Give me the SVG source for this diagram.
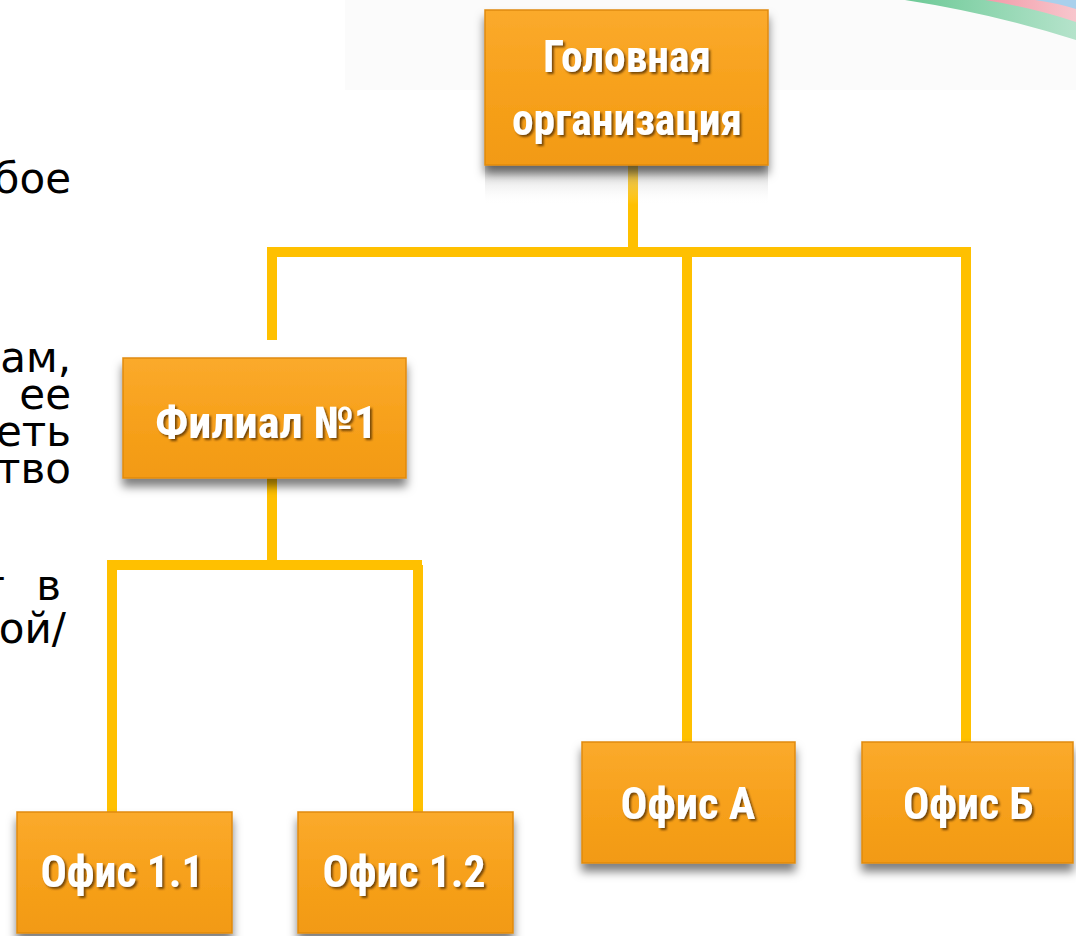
<svg xmlns="http://www.w3.org/2000/svg" width="1076" height="936" viewBox="0 0 1076 936">
<defs>
<linearGradient id="boxg" x1="0" y1="0" x2="0" y2="1">
<stop offset="0" stop-color="#FBAA2C"/>
<stop offset="0.5" stop-color="#F7A11C"/>
<stop offset="1" stop-color="#F29A12"/>
</linearGradient>
<linearGradient id="green" x1="0" y1="0" x2="1" y2="0">
<stop offset="0" stop-color="#6CC996"/>
<stop offset="1" stop-color="#B5E3CB"/>
</linearGradient>
<linearGradient id="pink" x1="0" y1="0" x2="1" y2="0">
<stop offset="0" stop-color="#F29BA8"/>
<stop offset="1" stop-color="#F8C6CD"/>
</linearGradient>
<linearGradient id="refl" x1="0" y1="0" x2="0" y2="1">
<stop offset="0" stop-color="#9A9A9A" stop-opacity="0.55"/>
<stop offset="1" stop-color="#FFFFFF" stop-opacity="0"/>
</linearGradient>
<filter id="boxsh" x="-10%" y="-10%" width="125%" height="140%">
<feDropShadow dx="0" dy="8" stdDeviation="5" flood-color="#000" flood-opacity="0.5"/>
</filter>
<filter id="txtsh" x="-10%" y="-20%" width="120%" height="150%">
<feDropShadow dx="2" dy="2" stdDeviation="1.2" flood-color="#4a2a00" flood-opacity="0.75"/>
</filter>
<style>
.box{fill:url(#boxg);stroke:#E08A0C;stroke-width:1.5;filter:url(#boxsh)}
.lbl{font-family:"Liberation Sans Narrow","Roboto Condensed",Roboto,"Liberation Sans",sans-serif;font-weight:bold;fill:#FFFFFF;text-anchor:middle;filter:url(#txtsh)}
.big{font-size:44px}
.body{font-family:"DejaVu Sans",Verdana,sans-serif;font-size:42px;fill:#000;text-anchor:end}
.conn{fill:none;stroke:#FFC000;stroke-width:10;stroke-linecap:butt;stroke-linejoin:miter}
</style>
</defs>
<rect x="0" y="0" width="1076" height="936" fill="#FFFFFF"/>
<rect x="345" y="0" width="731" height="90" fill="#FBFBFB"/>
<g id="swoosh">
<path d="M905,0 Q995,14 1076,40 L1076,0 Z" fill="url(#green)"/>
<path d="M985,0 Q1035,8 1076,22 L1076,0 Z" fill="url(#pink)"/>
<path d="M1035,0 Q1057,3 1076,9 L1076,0 Z" fill="#A9D0EC"/>
</g>
<g id="side-text">
<text class="body" x="71" y="193">бое</text>
<text class="body" x="71" y="372">ам,</text>
<text class="body" x="71" y="409">ее</text>
<text class="body" x="71" y="446">еть</text>
<text class="body" x="71" y="483">тво</text>
<text class="body" y="600"><tspan x="5">т</tspan><tspan x="61">в</tspan></text>
<text class="body" x="66" y="643">ой/</text>
</g>
<g id="connectors">
<path class="conn" d="M633,165 V252"/>
<path class="conn" d="M267,252 H971"/>
<path class="conn" d="M272,248 V340"/>
<path class="conn" d="M687,252 V742"/>
<path class="conn" d="M966,252 V742"/>
<path class="conn" d="M272,478 V565"/>
<path class="conn" d="M107,565 H422"/>
<path class="conn" d="M112,561 V812"/>
<path class="conn" d="M418,565 V812"/>
</g>
<g id="node-head">
<rect x="485" y="165" width="283" height="40" fill="url(#refl)"/>
<rect class="box" x="485" y="10" width="283" height="155"/>
<text class="lbl big" x="627" y="72" textLength="168" lengthAdjust="spacingAndGlyphs">Головная</text>
<text class="lbl big" x="627" y="135" textLength="230" lengthAdjust="spacingAndGlyphs">организация</text>
</g>
<g id="node-filial">
<rect class="box" x="123" y="358" width="283" height="120"/>
<text class="lbl big" x="266" y="438" textLength="222" lengthAdjust="spacingAndGlyphs">Филиал №1</text>
</g>
<g id="node-office11">
<rect class="box" x="17" y="812" width="215" height="121"/>
<text class="lbl big" x="122" y="887" textLength="163" lengthAdjust="spacingAndGlyphs">Офис 1.1</text>
</g>
<g id="node-office12">
<rect class="box" x="298" y="812" width="215" height="121"/>
<text class="lbl big" x="404" y="887" textLength="163" lengthAdjust="spacingAndGlyphs">Офис 1.2</text>
</g>
<g id="node-officeA">
<rect class="box" x="582" y="742" width="213" height="121"/>
<text class="lbl big" x="688" y="819" textLength="135" lengthAdjust="spacingAndGlyphs">Офис А</text>
</g>
<g id="node-officeB">
<rect class="box" x="862" y="742" width="211" height="121"/>
<text class="lbl big" x="968" y="819" textLength="130" lengthAdjust="spacingAndGlyphs">Офис Б</text>
</g>
</svg>
